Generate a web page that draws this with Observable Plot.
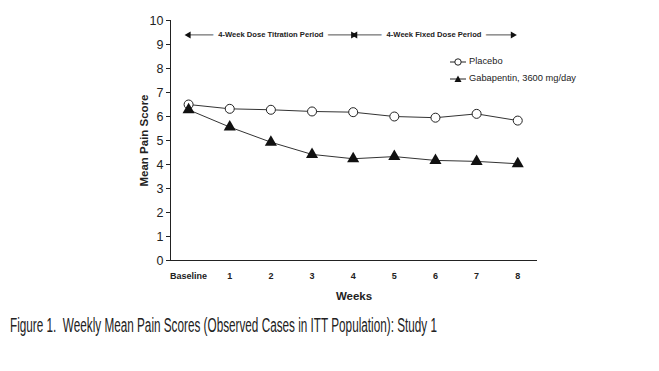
<!DOCTYPE html>
<html><head><meta charset="utf-8">
<script src="https://cdn.jsdelivr.net/npm/d3@7"></script>
<script src="https://cdn.jsdelivr.net/npm/@observablehq/plot@0.6"></script>
<style>
body{margin:0;background:#fff;font-family:"Liberation Sans",Arial,sans-serif;}
#wrap{position:relative;width:659px;height:371px;}
#legend{position:absolute;left:449px;top:53px;font-size:9.3px;color:#222;line-height:17px;}
#legend div{display:flex;align-items:center;}
#legend svg{margin-right:1px;}
#caption{position:absolute;left:10px;top:314px;font-family:"Liberation Sans",Arial,sans-serif;font-size:20px;color:#222;white-space:nowrap;transform-origin:0 0;}
</style></head>
<body><div id="wrap"><div id="chart"></div>
<div id="legend">
<div><svg width="19" height="10"><line x1="1" x2="17" y1="5" y2="5" stroke="#222"/><circle cx="9" cy="5" r="3.2" fill="#fff" stroke="#222"/></svg>Placebo</div>
<div><svg width="19" height="10"><line x1="1" x2="17" y1="5" y2="5" stroke="#222"/><path d="M9,1.5 L12.5,8 L5.5,8 Z" fill="#111"/></svg>Gabapentin, 3600 mg/day</div>
</div>
<div id="caption">Figure 1.&nbsp; Weekly Mean Pain Scores (Observed Cases in ITT Population): Study 1</div>
</div>
<script>
const weeks = [0,1,2,3,4,5,6,7,8];
const weekLabels = ["Baseline","1","2","3","4","5","6","7","8"];
const placebo = [6.5,6.32,6.28,6.21,6.18,6.0,5.95,6.11,5.83];
const gabapentin = [6.28,5.56,4.93,4.42,4.24,4.33,4.17,4.13,4.03];
const yTicks = [0,1,2,3,4,5,6,7,8,9,10];
const periodLabels = ["4-Week Dose Titration Period","4-Week Fixed Dose Period"];
const periodStart = [0,4.05];
const periodEnd = [4,7.88];
const periodY = 9.4;

const xDomain = [-0.44, 8.48];
const pl = weeks.map((w,i)=>({w, v:placebo[i]}));
const gb = weeks.map((w,i)=>({w, v:gabapentin[i]}));
const periods = periodLabels.map((l,i)=>({l, s:periodStart[i], e:periodEnd[i], m:(periodStart[i]+periodEnd[i])/2, y:periodY}));

const chart = Plot.plot({
  width:659, height:305,
  marginLeft:170, marginRight:122, marginTop:20, marginBottom:45,
  style:{fontFamily:"Liberation Sans, Arial, sans-serif", color:"#222", background:"#fff"},
  x:{domain:xDomain},
  y:{domain:[0,10]},
  marks:[
    Plot.axisY({ticks:yTicks, tickSize:4, tickPadding:3, fontSize:12.5, label:"Mean Pain Score", labelArrow:"none", labelAnchor:"center", labelOffset:31}),
    Plot.axisX({ticks:weeks, tickFormat:(d,i)=>weekLabels[i], tickSize:0, tickPadding:12, fontSize:9, fontWeight:"bold", label:"Weeks", labelArrow:"none", labelAnchor:"center", labelOffset:39}),
    Plot.ruleX([xDomain[0]], {y1:0, y2:10, stroke:"#222"}),
    Plot.ruleY([0], {x1:xDomain[0], x2:xDomain[1], stroke:"#222"}),
    Plot.ruleY(periods, {x1:"s", x2:"e", y:"y", stroke:"#222", strokeWidth:0.8}),
    Plot.dot(periods, {x:"s", y:"y", symbol:"triangle", rotate:-90, r:2.6, fill:"#111", stroke:null}),
    Plot.dot(periods, {x:"e", y:"y", symbol:"triangle", rotate:90, r:2.6, fill:"#111", stroke:null}),
    Plot.text(periods, {x:"m", y:"y", text:"l", fontSize:7.6, fontWeight:"bold", fill:"#222", stroke:"white", strokeWidth:10}),
    Plot.line(pl, {x:"w", y:"v", stroke:"#333", strokeWidth:1}),
    Plot.line(gb, {x:"w", y:"v", stroke:"#333", strokeWidth:1}),
    Plot.dot(pl, {x:"w", y:"v", r:4.5, fill:"white", stroke:"#222", strokeWidth:1}),
    Plot.dot(gb, {x:"w", y:"v", symbol:"triangle", r:4.5, fill:"#111", stroke:null})
  ]
});
chart.querySelectorAll('[aria-label="y-axis label"] text, [aria-label="x-axis label"] text').forEach(t=>{t.setAttribute("font-weight","bold");t.setAttribute("font-size","11.5");});
document.getElementById("chart").appendChild(chart);
const cap = document.getElementById("caption");
const w = cap.getBoundingClientRect().width;
cap.style.transform = `scaleX(${427 / w})`;
</script></body></html>
